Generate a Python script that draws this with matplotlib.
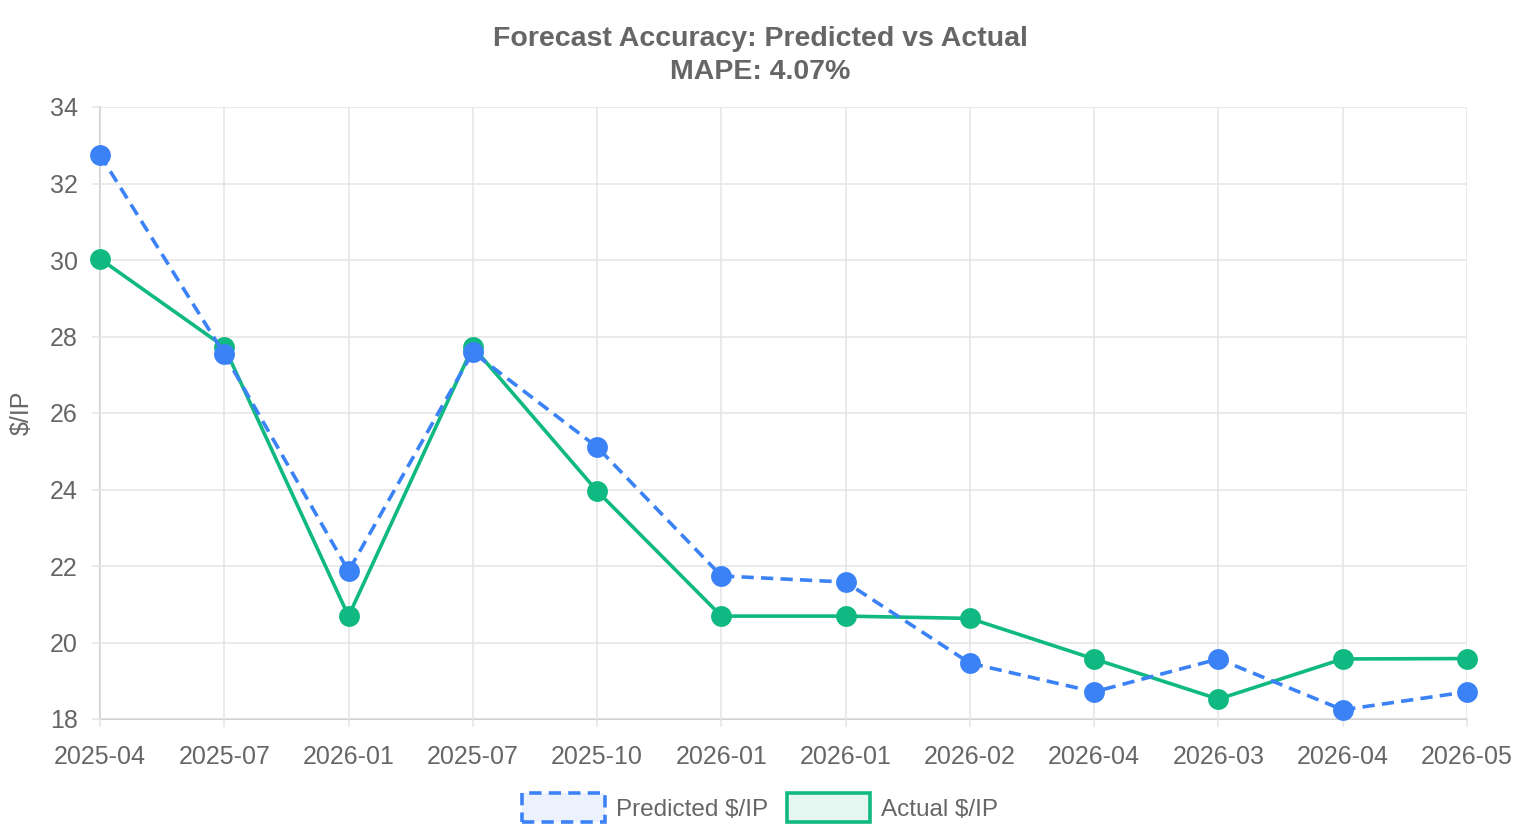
import matplotlib
matplotlib.use("Agg")
import matplotlib.pyplot as plt
from matplotlib.patches import Rectangle
from matplotlib.lines import Line2D
from matplotlib.legend_handler import HandlerBase

labels = ["2025-04", "2025-07", "2026-01", "2025-07", "2025-10", "2026-01",
          "2026-01", "2026-02", "2026-04", "2026-03", "2026-04", "2026-05"]
predicted = [32.75, 27.54, 21.87, 27.59, 25.11, 21.74, 21.58, 19.46, 18.71, 19.57, 18.24, 18.71]
actual = [30.03, 27.73, 20.69, 27.73, 23.96, 20.69, 20.69, 20.63, 19.57, 18.52, 19.57, 19.58]

title_line1 = "Forecast Accuracy: Predicted vs Actual"
title_line2 = "MAPE: 4.07%"
ylabel = "$/IP"
pred_label = "Predicted $/IP"
act_label = "Actual $/IP"

BLUE = "#3B82F6"
GREEN = "#10B981"
TXT = "#666666"
GRID = "#e4e4e4"
AXIS = "#c8c8c8"

plt.rcParams['font.family'] = ['Liberation Sans', 'DejaVu Sans']

W, H = 1520, 840
fig = plt.figure(figsize=(W / 100, H / 100), dpi=100)
ax = fig.add_axes([100 / W, 1 - 719 / H, (1467 - 100) / W, (719 - 107) / H])

x = list(range(len(labels)))
ax.plot(x, actual, color=GREEN, lw=2.6, marker='o', markersize=15,
        markeredgewidth=0, zorder=3, clip_on=False)
lp, = ax.plot(x, predicted, color=BLUE, lw=2.6, marker='o', markersize=15,
              markeredgewidth=0, zorder=4, clip_on=False)
lp.set_dashes([3.4, 2.0])

ax.set_xlim(0, len(labels) - 1)
ax.set_ylim(18, 34)
ax.set_yticks(range(18, 35, 2))
ax.set_xticks(x)
ax.set_xticklabels(labels)

ax.grid(True, color=GRID, lw=1.1, zorder=0)
for s in ['top', 'right']:
    ax.spines[s].set_visible(False)
for s in ['left', 'bottom']:
    ax.spines[s].set_color(AXIS)
    ax.spines[s].set_linewidth(1.2)
    ax.spines[s].set_zorder(1)
ax.tick_params(axis='both', colors=GRID, labelcolor=TXT, labelsize=18, length=6, width=1.1)
ax.tick_params(axis='y', pad=10)
ax.tick_params(axis='x', pad=13)
for lab in ax.get_xticklabels() + ax.get_yticklabels():
    lab.set_color(TXT)

ax.set_ylabel(ylabel, fontsize=18, color=TXT)
ax.yaxis.label.set_va('center')
ax.yaxis.set_label_coords(-78 / (1467 - 100), 0.5)

fig.text(0.5, 1 - 39 / H, title_line1, ha='center', va='center',
         fontsize=20.5, fontweight='bold', color=TXT)
fig.text(0.5, 1 - 72 / H, title_line2, ha='center', va='center',
         fontsize=20.5, fontweight='bold', color=TXT)


class BoxHandler(HandlerBase):
    def __init__(self, color, dashed):
        super().__init__()
        self.color = color
        self.dashed = dashed

    def create_artists(self, legend, orig_handle, xdescent, ydescent, width, height, fontsize, trans):
        r = Rectangle((-xdescent, -ydescent - 4), width, height + 8,
                      facecolor=matplotlib.colors.to_rgba(self.color, 0.1),
                      edgecolor=self.color, lw=2.6, transform=trans)
        if self.dashed:
            r.set_linestyle((0, (3.4, 2.0)))
        return [r]


h1 = Line2D([], [], color=BLUE)
h2 = Line2D([], [], color=GREEN)
leg = fig.legend([h1, h2], [pred_label, act_label], loc='center', bbox_to_anchor=(0.5, 1 - 810 / H),
                 ncol=2, frameon=False, fontsize=17.5, handlelength=3.4, handletextpad=0.45,
                 columnspacing=0.8,
                 handler_map={h1: BoxHandler(BLUE, True), h2: BoxHandler(GREEN, False)})
for t in leg.get_texts():
    t.set_color(TXT)

fig.savefig("out.png", dpi=100, facecolor='white')
